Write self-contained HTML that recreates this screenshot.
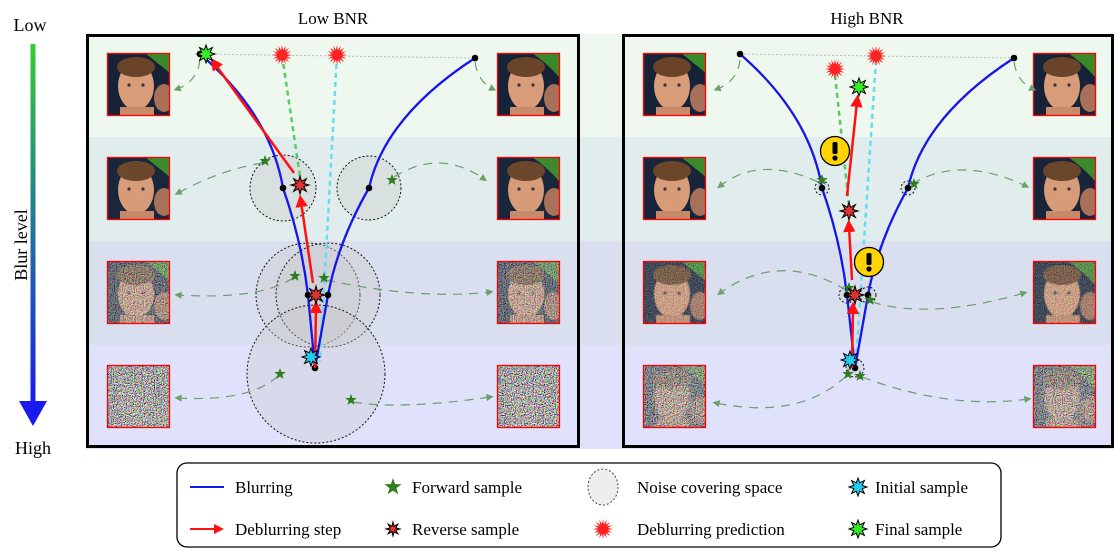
<!DOCTYPE html>
<html><head><meta charset="utf-8"><style>
body{margin:0;background:#fff;}
svg{display:block;font-family:"Liberation Serif",serif;}
</style></head><body>
<svg id="fig" width="1116" height="553" viewBox="0 0 1116 553" xmlns="http://www.w3.org/2000/svg">
<defs id="defs">
<linearGradient id="blurGrad" x1="0" y1="0" x2="0" y2="1">
<stop offset="0" stop-color="#33cc33"/><stop offset="0.5" stop-color="#227799"/><stop offset="1" stop-color="#1a1aee"/>
</linearGradient>
<filter id="noiseHi" x="0" y="0" width="1" height="1">
<feTurbulence type="fractalNoise" baseFrequency="0.9" numOctaves="1" seed="3" result="t"/>
<feColorMatrix in="t" type="matrix" values="4 0 0 0 -1.5  0 4 0 0 -1.5  0 0 4 0 -1.5  0 0 0 0 1"/>
<feComposite in2="SourceGraphic" operator="in"/>
</filter>
<marker id="redHead" markerWidth="5" markerHeight="5" refX="2" refY="2.5" orient="auto" markerUnits="strokeWidth"><path d="M0,0 L5,2.5 L0,5 z" fill="#ff1111"/></marker>
<marker id="greenHead" markerWidth="6" markerHeight="6" refX="3" refY="3" orient="auto" markerUnits="strokeWidth"><path d="M0,0 L6,3 L0,6 z" fill="#6aa06a"/></marker>
</defs>

<text x="30" y="31" font-size="18" text-anchor="middle">Low</text>
<text x="33" y="454" font-size="18" text-anchor="middle">High</text>
<text transform="translate(27,245) rotate(-90)" font-size="18" text-anchor="middle">Blur level</text>
<rect x="30.5" y="44" width="5" height="358" fill="url(#blurGrad)"/>
<path d="M19,401 L47,401 L33,426 z" fill="#1a1aee"/>
<text x="333" y="24" font-size="17" text-anchor="middle">Low BNR</text>
<text x="867" y="24" font-size="17" text-anchor="middle">High BNR</text>

<g id="bands"></g>
<g id="panels"></g>

<g>
<rect x="177" y="463" width="824" height="84" rx="10" fill="#fff" stroke="#000" stroke-width="1.3"/>
<g id="legend"></g>
</g>
</svg>
<script>
const NS="http://www.w3.org/2000/svg";
const svg=document.getElementById('fig');
const defs=document.getElementById('defs');
function mk(tag,attrs,parent){const e=document.createElementNS(NS,tag);for(const k in attrs)e.setAttribute(k,attrs[k]);(parent||svg).appendChild(e);return e;}
function starPts(cx,cy,n,ro,ri){let p=[];for(let i=0;i<2*n;i++){const r=i%2?ri:ro;const a=-Math.PI/2+i*Math.PI/n;p.push((cx+r*Math.cos(a)).toFixed(1)+','+(cy+r*Math.sin(a)).toFixed(1));}return p.join(' ');}

const bandTops=[34,137,241,345];
const bandColors=['#eef8ee','#e1eded','#dadff0','#e0e2fc'];
const bandH=104;
const bands=document.getElementById('bands');
bandTops.forEach((t,i)=>{
  const r=mk('rect',{x:86,y:t,width:1028,height:bandH,fill:bandColors[i]},bands);
  
  
});

const faceNoise=[[0,0.03,0.55,0.95],[0,0.02,0.3,0.7]];
let clipN=0;
function face(x,y,side,noise,blur,g,name){
  const cid='fc'+(clipN++);
  const cp=mk('clipPath',{id:cid},defs);
  mk('rect',{x:x,y:y,width:63,height:63},cp);
  const gg=mk('g',{'clip-path':'url(#'+cid+')'},g);
  
  
  mk('rect',{x:x,y:y,width:63,height:63,fill:'#152238'},gg);
  mk('path',{d:side? `M${x+35},${y} L${x+63},${y} L${x+63},${y+25} Q${x+50},${y+10} ${x+35},${y}z`:`M${x+38},${y} L${x+63},${y} L${x+63},${y+20} z`,fill:'#3a8a2a'},gg);
  const f=mk('g',{},gg);
  if(blur>0) f.setAttribute('style','filter:blur('+blur+'px)');
  mk('ellipse',{cx:x+57,cy:y+45,rx:10,ry:14,fill:'#a87058'},f);
  mk('ellipse',{cx:x+29,cy:y+33,rx:18,ry:24,fill:'#d99c78'},f);
  mk('ellipse',{cx:x+29,cy:y+14,rx:19,ry:10,fill:'#6a4428'},f);
  mk('rect',{x:x+13,y:y+54,width:34,height:9,fill:'#c88a68'},f);
  mk('circle',{cx:x+22,cy:y+32,r:1.6,fill:'#334'},f);
  mk('circle',{cx:x+36,cy:y+32,r:1.6,fill:'#334'},f);
  if(noise>0){mk('rect',{x:x,y:y,width:63,height:63,fill:'#fff',filter:'url(#noiseHi)',opacity:noise},gg);}
  const b=mk('rect',{x:x+0.5,y:y+0.5,width:62,height:62,fill:'none',stroke:'#ff0000','stroke-width':1.3},g);
  
  
}

const panelX=[86,622];
const panelW=[494,492];
const rowY=[53,157,261,365];
const blurAmt=[[0,0,0,0],[0,0,0.5,1.8]];
const panels=document.getElementById('panels');

const leftCurve=[[[200,54],[283,188],[308,295],[315,368]],[[740,54],[822,188],[847,295],[855,368]]];
const rightCurve=[[[475,58],[369,188],[328,295],[315,368]],[[1014,58],[908,188],[868,295],[855,368]]];
const noiseCircles=[[[283,188,33],[369,188,32],[308,295,52],[328,295,52],[316,374,69]],[[822,188,7],[908,188,7],[847,295,8],[868,295,8],[855,368,9]]];
const preds=[[[282,55],[337,55]],[[835,69],[876,56]]];
const predLinesGreen=[[282,55,301,183],[835,75,849,205]];
const predLinesCyan=[[337,55,320,362],[876,60,856,362]];
const redArrows=[[[315,368,316,308],[313,283,301,202],[294,173,215,64]],[[852,368,853,309],[852,280,849,227],[847,196,857,102]]];
const reverseSamples=[[[300,185],[316,295]],[[849,211],[855,295]]];
const initialSample=[[311,357],[850,360]];
const finalSample=[[206,54],[859,87]];
const forwardStars=[[[265,161],[392,180],[295,276],[324,278],[280,374],[351,400]],[[822,180],[914,184],[849,288],[870,300],[848,374],[860,376]]];
const greenPaths=[
 ['M200,60 Q197,82 177,89','M475,62 Q478,82 493,89','M262,163 Q220,170 178,193','M394,177 Q440,148 484,179','M293,278 Q260,300 178,295','M326,280 Q420,300 490,292','M278,376 Q250,402 178,398','M353,402 Q400,410 490,397'],
 ['M740,60 Q737,82 717,89','M1014,62 Q1017,82 1033,89','M818,182 Q760,155 720,186','M912,184 Q960,155 1026,186','M846,290 Q780,250 720,293','M872,302 Q930,320 1024,293','M846,376 Q800,420 716,403','M862,377 Q950,410 1028,399']
];
const warnings=[[],[[835,151],[869,262]]];
const topDots=[[[200,54],[475,58]],[[740,54],[1014,58]]];

function curvePath(pts){
  const [a,b,c,d]=pts;
  return `M${a[0]},${a[1]} Q${(a[0]+b[0])/2+ (b[0]-a[0])*0.35},${(a[1]+b[1])/2-(b[1]-a[1])*0.05} ${b[0]},${b[1]} Q${b[0]+(c[0]-b[0])*0.75},${(b[1]+c[1])/2} ${c[0]},${c[1]} L${d[0]},${d[1]}`;
}

for(let p=0;p<2;p++){
  const g=mk('g',{},panels);
  
  
  const px=panelX[p];
  for(let r=0;r<4;r++){
    face(px+21,rowY[r],0,faceNoise[p][r],blurAmt[p][r],g,'left-image-row-'+(r+1));
    face(px+411,rowY[r],1,faceNoise[p][r],blurAmt[p][r],g,'right-image-row-'+(r+1));
  }
  noiseCircles[p].forEach((c,i)=>{
    const e=mk('circle',{cx:c[0],cy:c[1],r:c[2],fill:'rgba(200,200,200,0.35)',stroke:'#111','stroke-width':1,'stroke-dasharray':'2,2'},g);
    
    
  });
  greenPaths[p].forEach((d,i)=>{
    const e=mk('path',{d:d,fill:'none',stroke:'#6aa06a','stroke-width':1.2,'stroke-dasharray':'9,7','marker-end':'url(#greenHead)'},g);
    
    
  });
  const td=topDots[p];
  const dl=mk('line',{x1:td[0][0],y1:td[0][1],x2:td[1][0],y2:td[1][1],stroke:'#bbb','stroke-width':1,'stroke-dasharray':'2,2'},g);
  
  
  let l=predLinesGreen[p];
  let e=mk('line',{x1:l[0],y1:l[1],x2:l[2],y2:l[3],stroke:'#55cc66','stroke-width':2.5,'stroke-dasharray':'5,4'},g);
  
  
  l=predLinesCyan[p];
  e=mk('line',{x1:l[0],y1:l[1],x2:l[2],y2:l[3],stroke:'#66ddee','stroke-width':2.5,'stroke-dasharray':'5,4'},g);
  
  
  [leftCurve[p],rightCurve[p]].forEach((c,i)=>{
    const e=mk('path',{d:curvePath(c),fill:'none',stroke:'#1515ee','stroke-width':2.3},g);
    
    
  });
  [...leftCurve[p].slice(1,3),...rightCurve[p].slice(1,3),leftCurve[p][3],...td].forEach((pt,i)=>{
    const e=mk('circle',{cx:pt[0],cy:pt[1],r:3.3,fill:'#000'},g);
    
    
  });
  redArrows[p].forEach((a,i)=>{
    const e=mk('line',{x1:a[0],y1:a[1],x2:a[2],y2:a[3],stroke:'#ff1111','stroke-width':2.5,'marker-end':'url(#redHead)'},g);
    
    
  });
  forwardStars[p].forEach((s,i)=>{
    const e=mk('polygon',{points:starPts(s[0],s[1],5,6,2.5),fill:'#2e7d1e'},g);
    
    
  });
  preds[p].forEach((s,i)=>{
    const e=mk('polygon',{points:starPts(s[0],s[1],16,10,5),fill:'#ff2222'},g);
    
    
  });
  reverseSamples[p].forEach((s,i)=>{
    const e=mk('polygon',{points:starPts(s[0],s[1],8,9,4),fill:'#dd3333',stroke:'#000','stroke-width':1},g);
    
    
  });
  let s=initialSample[p];
  e=mk('polygon',{points:starPts(s[0],s[1],8,9,4.5),fill:'#22ccee',stroke:'#000','stroke-width':1},g);
  
  
  s=finalSample[p];
  e=mk('polygon',{points:starPts(s[0],s[1],8,9,4.5),fill:'#33ee22',stroke:'#000','stroke-width':1},g);
  
  
  warnings[p].forEach((w,i)=>{
    const wg=mk('g',{},g);
    
    
    mk('circle',{cx:w[0],cy:w[1],r:14.5,fill:'#ffd400',stroke:'#000','stroke-width':1.3},wg);
    mk('rect',{x:w[0]-2.5,y:w[1]-9,width:5,height:12,rx:1.5,fill:'#000'},wg);
    mk('circle',{cx:w[0],cy:w[1]+7,r:2.6,fill:'#000'},wg);
  });
  const box=mk('rect',{x:px+1.5,y:35.5,width:panelW[p]-3,height:411,fill:'none',stroke:'#000','stroke-width':3},g);
  
  
}

const lg=document.getElementById('legend');
const legendLabels=['Blurring','Deblurring step','Forward sample','Reverse sample','Noise covering space','Deblurring prediction','Initial sample','Final sample'];
const legendX=[190,190,393,393,603,603,858,858];
const legendTextX=[235,235,412,412,637,637,875,875];
const legendY=[487,529,487,529,487,529,487,529];
legendLabels.forEach((t,i)=>{
  const x=legendX[i],y=legendY[i];
  const ig=mk('g',{},lg);
  
  
  if(i==0) mk('line',{x1:x,y1:y,x2:x+34,y2:y,stroke:'#1515ee','stroke-width':2},ig);
  if(i==1) mk('line',{x1:x,y1:y,x2:x+28,y2:y,stroke:'#ff1111','stroke-width':2,'marker-end':'url(#redHead)'},ig);
  if(i==2) mk('polygon',{points:starPts(x,y,5,9,3.6),fill:'#2e7d1e'},ig);
  if(i==3) mk('polygon',{points:starPts(x,y,8,7,3),fill:'#dd3333',stroke:'#000','stroke-width':1},ig);
  if(i==4) mk('ellipse',{cx:x,cy:y,rx:15,ry:18,fill:'#eee',stroke:'#444','stroke-width':1,'stroke-dasharray':'2,2'},ig);
  if(i==5) mk('polygon',{points:starPts(x,y,16,10,5),fill:'#ff2222'},ig);
  if(i==6) mk('polygon',{points:starPts(x,y,8,9,4.5),fill:'#22ccee',stroke:'#000','stroke-width':1},ig);
  if(i==7) mk('polygon',{points:starPts(x,y,8,9,4.5),fill:'#33ee22',stroke:'#000','stroke-width':1},ig);
  const tx=mk('text',{x:legendTextX[i],y:y+6,'font-size':17},ig);
  tx.textContent=t;
});
</script>
</body></html>
